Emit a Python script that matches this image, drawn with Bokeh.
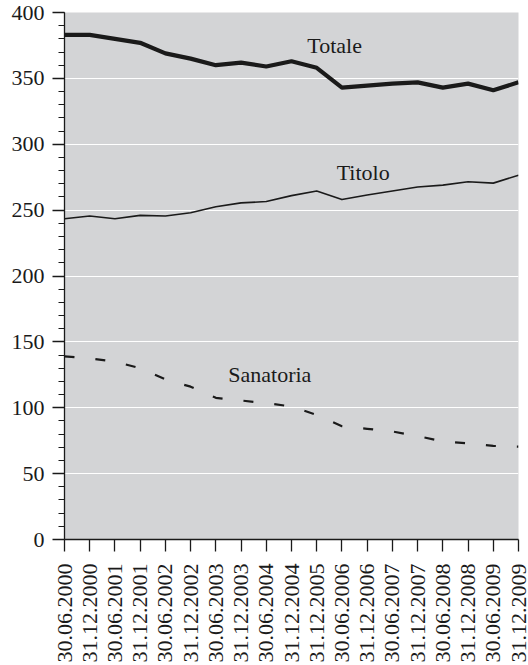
import math
from bokeh.plotting import figure
from bokeh.models import Range1d, FixedTicker, SingleIntervalTicker, Label
from bokeh.embed import file_html
from bokeh.resources import INLINE

dates = ["30.06.2000", "31.12.2000", "30.06.2001", "31.12.2001", "30.06.2002",
         "31.12.2002", "30.06.2003", "31.12.2003", "30.06.2004", "31.12.2004",
         "31.12.2005", "30.06.2006", "31.12.2006", "30.06.2007", "31.12.2007",
         "30.06.2008", "31.12.2008", "30.06.2009", "31.12.2009"]

totale = [383, 383, 380, 377, 369, 365, 360, 362, 359, 363, 358, 343, 344.5,
          346, 347, 343, 346, 341, 347]
titolo = [243.5, 245.5, 243.5, 246, 245.5, 248, 252.5, 255.5, 256.5, 261, 264.5,
          258, 261.5, 264.5, 267.5, 269, 271.5, 270.5, 276.5]
sanatoria = [139, 137.5, 135, 130, 121.5, 116, 107.5, 105.5, 103.5, 101, 94.5,
             86, 84, 82, 78.5, 74.5, 73, 71, 70.5]

idx = list(range(len(dates)))
FONT = "Liberation Serif"
INK = "#1a1a1a"

p = figure(width=528, height=665, output_backend="svg", toolbar_location=None,
           x_range=Range1d(0, len(dates) - 1), y_range=Range1d(0, 400),
           min_border_left=64, min_border_right=10, min_border_top=12,
           min_border_bottom=123)

p.background_fill_color = "#d3d4d6"
p.border_fill_color = "white"
p.outline_line_color = None

p.xgrid.grid_line_color = None
p.ygrid.grid_line_color = "white"
p.ygrid.grid_line_width = 1.2

yax = p.yaxis[0]
xax = p.xaxis[0]

# y axis
yax.ticker = SingleIntervalTicker(interval=50, num_minor_ticks=5)
yax.major_tick_in = 0
yax.major_tick_out = 12
yax.minor_tick_in = 0
yax.minor_tick_out = 6
yax.minor_tick_line_color = INK
yax.minor_tick_line_width = 1.2
yax.major_label_standoff = 8

# x axis
xax.ticker = FixedTicker(ticks=idx)
xax.major_label_overrides = {i: d for i, d in enumerate(dates)}
xax.major_label_orientation = math.pi / 2
xax.major_tick_in = 0
xax.major_tick_out = 12
xax.minor_tick_line_color = None
xax.major_label_standoff = 12

for ax in (xax, yax):
    ax.axis_line_color = INK
    ax.axis_line_width = 1.3
    ax.major_tick_line_color = INK
    ax.major_tick_line_width = 1.3
    ax.major_label_text_font = FONT
    ax.major_label_text_font_size = "22px"
    ax.major_label_text_color = INK

p.line(idx, totale, line_width=4.2, line_color=INK, line_join="round")
p.line(idx, titolo, line_width=1.6, line_color=INK, line_join="round")
p.line(idx, sanatoria, line_width=2.2, line_color=INK, line_dash="10 21")

for txt, x, y in [("Totale", 10.71, 375), ("Titolo", 11.84, 278.5), ("Sanatoria", 8.14, 125)]:
    p.add_layout(Label(x=x, y=y, text=txt, text_align="center", text_baseline="middle",
                       text_font=FONT, text_font_size="22px", text_color=INK))

open("out.html", "w").write(file_html(p, INLINE))
